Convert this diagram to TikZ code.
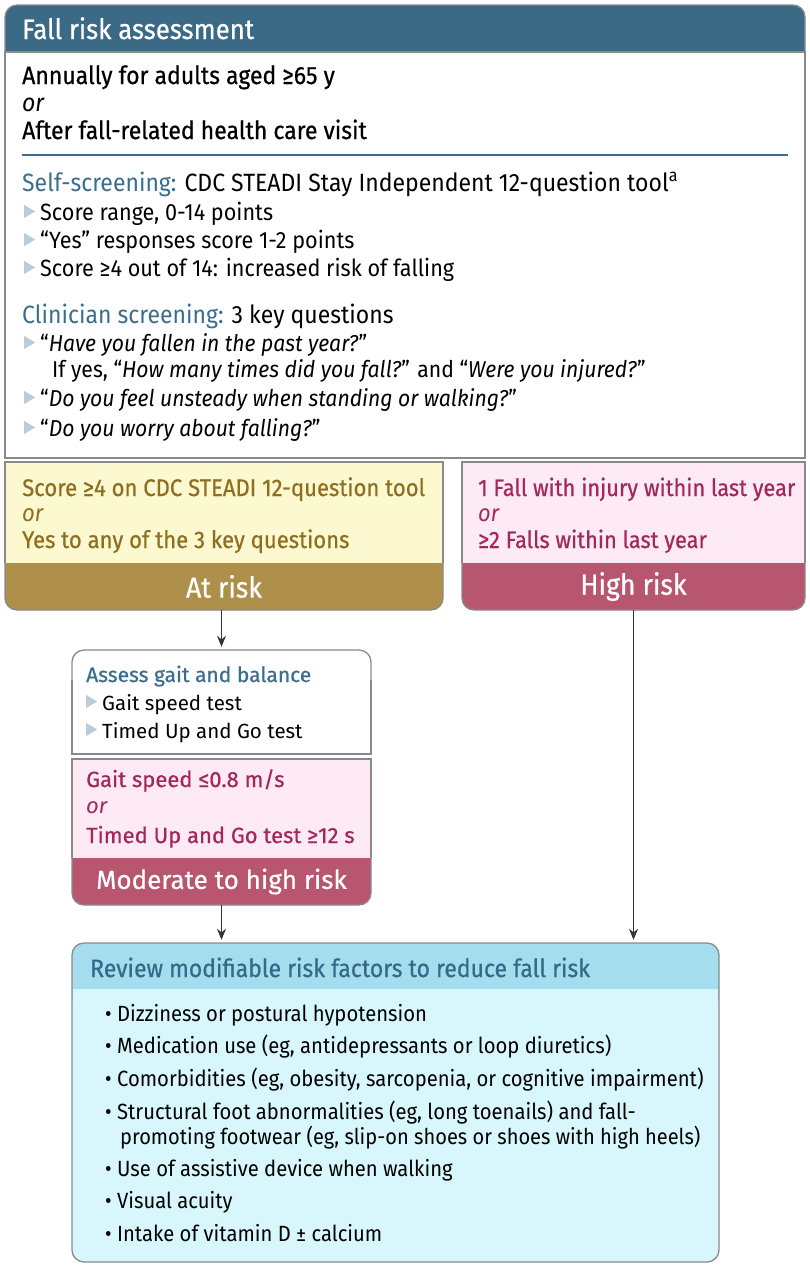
\documentclass[tikz,border=0pt]{standalone}
\usepackage{fontspec}
\setmainfont{Fira Sans}[FakeStretch=0.92]
\newfontfamily\medfont{Fira Sans}[FakeStretch=0.92, FakeBold=0.6]
\newfontfamily\widefont{Fira Sans}
\newfontfamily\widemed{Fira Sans}[FakeBold=0.6]
\usetikzlibrary{arrows.meta}
\definecolor{hdr}{HTML}{3A6A86}
\definecolor{tblue}{HTML}{3A6E8C}
\definecolor{bord}{HTML}{8A8A8A}
\definecolor{yfill}{HTML}{FCF8CF}
\definecolor{ytext}{HTML}{8E6F22}
\definecolor{yband}{HTML}{AE904B}
\definecolor{pfill}{HTML}{FEEAF4}
\definecolor{ptext}{HTML}{A3285A}
\definecolor{pband}{HTML}{B8566F}
\definecolor{tricol}{HTML}{B9CCD8}
\definecolor{revhdr}{HTML}{A6DDEE}
\definecolor{revbody}{HTML}{D7F7FD}
\definecolor{revtext}{HTML}{336A8A}
\definecolor{arrc}{HTML}{333333}
\newcommand\fsz[1]{\fontsize{#1}{#1}\selectfont}
\newcommand\tri{\tikz[x=1pt,y=1pt,baseline=0pt]\fill[tricol] (0,2) -- (0,15) -- (11,8.5) -- cycle;}
\tikzset{
  txt/.style={inner sep=0pt, anchor=base west},
  boxnode/.style={inner sep=0pt, draw=none},
  arr/.style={-{Stealth[length=11pt,width=9pt]}, line width=1.5pt, draw=arrc, shorten >=3pt},
  border/.style={draw=bord, line width=1.3pt}
}
\begin{document}
\begin{tikzpicture}[x=1pt,y=-1pt]
\useasboundingbox (0,0) rectangle (810,1267);
% ---------------- top box
\filldraw[fill=hdr, border, rounded corners=12pt] (5,5) rectangle (805,80);
\filldraw[fill=white, border] (5,52) rectangle (805,458);
\node[boxnode, minimum width=800pt, minimum height=453pt] (top) at (405,231.5) {};
\node[txt, text=white] (ttl) at (22,39) {\medfont\fsz{28}Fall risk assessment};
\node[txt] (a1) at (22,84) {\medfont\fsz{25}Annually for adults aged ≥65 y};
\node[txt] (a2) at (22,111) {\fsz{25}\itshape or};
\node[txt] (a3) at (22,139) {\medfont\fsz{25}After fall-related health care visit};
\draw[tblue, line width=1.5pt] (22,155) -- (788,155);
\node[txt] (s0) at (22,191) {\fsz{25}\textcolor{tblue}{Self-screening:} CDC STEADI Stay Independent 12-question tool\textsuperscript{a}};
\node[txt] (s1) at (24,220) {\fsz{23.5}\tri\hspace{5pt}Score range, 0-14 points};
\node[txt] (s2) at (24,248) {\fsz{23.5}\tri\hspace{5pt}“Yes” responses score 1-2 points};
\node[txt] (s3) at (24,276) {\fsz{23.5}\tri\hspace{5pt}Score ≥4 out of 14: increased risk of falling};
\node[txt] (c0) at (22,323) {\fsz{25}\textcolor{tblue}{Clinician screening:} 3 key questions};
\node[txt] (c1) at (24,351) {\fsz{23}\tri\hspace{5pt}“\textit{Have you fallen in the past year?}”};
\node[txt] (c1b) at (52,377) {\fsz{23}If yes, “\textit{How many times did you fall?}” and “\textit{Were you injured?}”};
\node[txt] (c2) at (24,406) {\fsz{23}\tri\hspace{5pt}“\textit{Do you feel unsteady when standing or walking?}”};
\node[txt] (c3) at (24,436) {\fsz{23}\tri\hspace{5pt}“\textit{Do you worry about falling?}”};
% ---------------- at risk box
\filldraw[fill=yband, border, rounded corners=12pt] (5,540) rectangle (443,610);
\fill[yfill] (5,462) rectangle (443,563);
\draw[border] (5,563) |- (443,462) -- (443,563);
\node[txt, text=ytext] (y1) at (22,496) {\medfont\fsz{24}Score ≥4 on CDC STEADI 12-question tool};
\node[txt, text=ytext] (y2) at (22,521) {\fsz{24}\itshape or};
\node[txt, text=ytext] (y3) at (22,548) {\medfont\fsz{24}Yes to any of the 3 key questions};
\node[boxnode, minimum width=438pt, minimum height=47pt, text=white] (atrisk) at (224,586.5) {\medfont\fsz{29}At risk};
% ---------------- high risk box
\filldraw[fill=pband, border, rounded corners=12pt] (462,540) rectangle (805,610);
\fill[pfill] (462,462) rectangle (805,563);
\draw[border] (462,563) |- (805,462) -- (805,563);
\node[txt, text=ptext] (h1) at (478,496) {\medfont\fsz{23.7}1 Fall with injury within last year};
\node[txt, text=ptext] (h2) at (478,521) {\fsz{23.7}\itshape or};
\node[txt, text=ptext] (h3) at (478,548) {\medfont\fsz{23.7}≥2 Falls within last year};
\node[boxnode, minimum width=343pt, minimum height=47pt, text=white] (highrisk) at (633.5,586.5) {\medfont\fsz{29}High risk};
% ---------------- assess gait box
\filldraw[fill=white, border, rounded corners=12pt] (72,650) rectangle (371,720);
\fill[white] (72,680) rectangle (371,754);
\draw[border] (72,680) |- (371,754) -- (371,680);
\node[boxnode, minimum width=299pt, minimum height=104pt] (assess) at (221.5,702) {};
\node[txt, text=tblue] (g0) at (86,682) {\widemed\fsz{21}Assess gait and balance};
\node[txt] (g1) at (86,710) {\widefont\fsz{20.5}\tri\hspace{5pt}Gait speed test};
\node[txt] (g2) at (86,738) {\widefont\fsz{20.5}\tri\hspace{5pt}Timed Up and Go test};
% ---------------- moderate box
\filldraw[fill=pband, border, rounded corners=12pt] (72,835) rectangle (371,905);
\fill[pfill] (72,759) rectangle (371,858);
\draw[border] (72,858) |- (371,759) -- (371,858);
\node[txt, text=ptext] (m1) at (86,787) {\widemed\fsz{22}Gait speed ≤0.8 m/s};
\node[txt, text=ptext] (m2) at (86,813) {\widefont\fsz{22}\itshape or};
\node[txt, text=ptext] (m3) at (86,843) {\widemed\fsz{22}Timed Up and Go test ≥12 s};
\node[boxnode, minimum width=299pt, minimum height=47pt, text=white] (moderate) at (221.5,881.5) {\widemed\fsz{26}Moderate to high risk};
% ---------------- review box
\fill[revbody, rounded corners=12pt] (72,943) rectangle (719,1262);
\fill[revhdr, rounded corners=12pt] (72,943) rectangle (719,1010);
\fill[revbody] (73,989) rectangle (718,1020);
\draw[border, rounded corners=12pt] (72,943) rectangle (719,1262);
\node[boxnode, minimum width=647pt, minimum height=319pt] (review) at (395.5,1102.5) {};
\node[txt, text=revtext] (r0) at (90,977) {\medfont\fsz{25}Review modifiable risk factors to reduce fall risk};
\node[txt] (r1) at (105,1021) {\fsz{22}• Dizziness or postural hypotension};
\node[txt] (r2) at (105,1053) {\fsz{22}• Medication use (eg, antidepressants or loop diuretics)};
\node[txt] (r3) at (105,1086) {\fsz{22}• Comorbidities (eg, obesity, sarcopenia, or cognitive impairment)};
\node[txt] (r4) at (105,1119) {\fsz{22}• Structural foot abnormalities (eg, long toenails) and fall-};
\node[txt] (r4b) at (120,1144) {\fsz{21.8}promoting footwear (eg, slip-on shoes or shoes with high heels)};
\node[txt] (r5) at (105,1176) {\fsz{22}• Use of assistive device when walking};
\node[txt] (r6) at (105,1208) {\fsz{22}• Visual acuity};
\node[txt] (r7) at (105,1241) {\fsz{22}• Intake of vitamin D ± calcium};
% ---------------- connectors
\draw[arr] (assess.north |- atrisk.south) -- (assess.north);
\draw[arr] (moderate.south) -- (moderate.south |- review.north);
\draw[arr] (highrisk.south) -- (highrisk.south |- review.north);
\end{tikzpicture}
\end{document}
